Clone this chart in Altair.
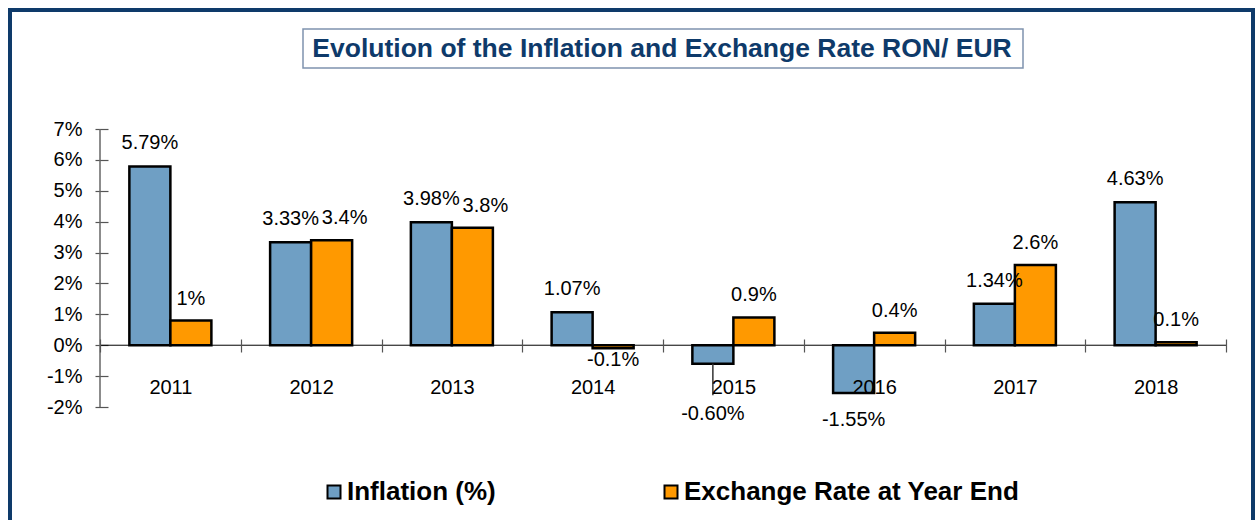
import altair as alt
import pandas as pd

# ---- data ----
years = ["2011", "2012", "2013", "2014", "2015", "2016", "2017", "2018"]
inflation = [5.79, 3.33, 3.98, 1.07, -0.60, -1.55, 1.34, 4.63]
inflation_labels = ["5.79%", "3.33%", "3.98%", "1.07%", "-0.60%", "-1.55%", "1.34%", "4.63%"]
exchange = [0.8, 3.4, 3.8, -0.1, 0.9, 0.4, 2.6, 0.1]
exchange_labels = ["1%", "3.4%", "3.8%", "-0.1%", "0.9%", "0.4%", "2.6%", "0.1%"]
series_names = ["Inflation (%)", "Exchange Rate at Year End"]
y_ticks = [-2, -1, 0, 1, 2, 3, 4, 5, 6, 7]
title_text = "Evolution of the Inflation and Exchange Rate RON/ EUR"

FONT = "Liberation Sans, Arial, Helvetica, sans-serif"
NAVY = "#0E3A6A"
BLUE = "#6F9FC4"
ORANGE = "#FF9900"

rows = []
for i, yr in enumerate(years):
    near = abs(inflation[i] - exchange[i]) < 0.5
    rows.append({"year": yr, "series": series_names[0], "value": inflation[i],
                 "label": inflation_labels[i], "near": False})
    rows.append({"year": yr, "series": series_names[1], "value": exchange[i],
                 "label": exchange_labels[i], "near": near})
df = pd.DataFrame(rows)

x_enc = alt.X("year:N", sort=years,
              scale=alt.Scale(paddingInner=0, paddingOuter=0),
              axis=alt.Axis(title=None, labelAngle=0, tickBand="extent", domain=False,
                            offset=-68, tickSize=13, tickColor="#555555", tickWidth=1.2,
                            labelPadding=35, labelBaseline="middle", labelFontSize=20,
                            labelFont=FONT, labelColor="black", zindex=1))
xo_enc = alt.XOffset("series:N", sort=series_names,
                     scale=alt.Scale(domain=series_names, paddingInner=0, paddingOuter=0.716))
y_scale = alt.Scale(domain=[-2, 7], nice=False, zero=False)
y_axis = alt.Axis(title=None, values=y_ticks, labelExpr="datum.value + '%'", grid=False,
                  domain=False, offset=-8, tickSize=13, tickColor="#555555", tickWidth=1.2,
                  labelPadding=13, labelFontSize=20, labelFont=FONT, labelColor="black")
color_enc = alt.Color("series:N", sort=series_names,
                      scale=alt.Scale(domain=series_names, range=[BLUE, ORANGE]),
                      legend=alt.Legend(title=None, orient="none", legendX=221, legendY=350,
                                        direction="horizontal", symbolType="square",
                                        symbolSize=169, symbolStrokeColor="black",
                                        symbolStrokeWidth=2, labelFontSize=26,
                                        labelFontWeight="bold", labelFont=FONT,
                                        labelColor="black", labelOffset=0,
                                        columnPadding=162, padding=0, labelLimit=600))

base = alt.Chart(df)

bars = base.mark_bar(stroke="black", strokeWidth=2.5).encode(
    x=x_enc, xOffset=xo_enc,
    y=alt.Y("value:Q", scale=y_scale, axis=y_axis),
    color=color_enc,
)

txt = dict(fontSize=20, font=FONT, color="black", baseline="middle", align="center")

infl_pos = base.mark_text(dy=-23, **txt).encode(
    x=x_enc, xOffset=xo_enc, y=alt.Y("value:Q", scale=y_scale, axis=y_axis), text="label:N"
).transform_filter(
    (alt.datum.series == series_names[0]) & (alt.datum.value >= 0))

infl_neg = base.mark_text(dy=27, **txt).transform_filter(
    (alt.datum.series == series_names[0]) & (alt.datum.value < 0)
).transform_calculate(ly="min(datum.value, -1.35)").encode(
    x=x_enc, xOffset=xo_enc, y=alt.Y("ly:Q", scale=y_scale, axis=y_axis), text="label:N")

# leader line for a label pushed below the category labels
leader = base.mark_rule(color="#333333", strokeWidth=1.5).transform_filter(
    (alt.datum.series == series_names[0]) & (alt.datum.value < 0) & (alt.datum.value > -1.35)
).transform_calculate(ly2="-1.62").encode(
    x=x_enc, xOffset=xo_enc, y=alt.Y("value:Q", scale=y_scale, axis=y_axis), y2="ly2:Q")

exch_pos = base.mark_text(dy=-22, **txt).encode(
    x=x_enc, xOffset=xo_enc, y=alt.Y("value:Q", scale=y_scale, axis=y_axis), text="label:N"
).transform_filter(
    (alt.datum.series == series_names[1]) & (alt.datum.value >= 0) & (alt.datum.near == False))

exch_near = base.mark_text(dy=-22, dx=13, **txt).encode(
    x=x_enc, xOffset=xo_enc, y=alt.Y("value:Q", scale=y_scale, axis=y_axis), text="label:N"
).transform_filter(
    (alt.datum.series == series_names[1]) & (alt.datum.value >= 0) & (alt.datum.near == True))

exch_neg = base.mark_text(dy=12, **txt).encode(
    x=x_enc, xOffset=xo_enc, y=alt.Y("value:Q", scale=y_scale, axis=y_axis), text="label:N"
).transform_filter(
    (alt.datum.series == series_names[1]) & (alt.datum.value < 0))

one = pd.DataFrame({"t": [title_text]})

zero_line = alt.Chart(one).mark_rule(color="black", strokeWidth=1).encode(
    y=alt.Y(datum=0, scale=y_scale, axis=y_axis))
y_line = alt.Chart(one).mark_rule(color="#666666", strokeWidth=1.5).encode(
    x=alt.value(0), y=alt.Y(datum=-2, scale=y_scale, axis=y_axis), y2=alt.datum(7))

frame = alt.Chart(one).mark_rect(fillOpacity=0, stroke=NAVY, strokeWidth=4).encode(
    x=alt.value(-90), x2=alt.value(1153), y=alt.value(-119), y2=alt.value(430))
title_box = alt.Chart(one).mark_rect(fill="white", stroke="#7F93AE", strokeWidth=1.5).encode(
    x=alt.value(203), x2=alt.value(923), y=alt.value(-100), y2=alt.value(-61))
title = alt.Chart(one).mark_text(fontSize=26.5, fontWeight="bold", font=FONT, color=NAVY,
                                 align="center", baseline="middle").encode(
    x=alt.value(562), y=alt.value(-80), text="t:N")

chart = alt.layer(
    frame, title_box, title, bars, leader, zero_line, y_line,
    infl_pos, infl_neg, exch_pos, exch_near, exch_neg
).properties(
    width=1126, height=278,
    autosize=alt.AutoSizeParams(type="none"),
    padding={"left": 100, "top": 129, "right": 30, "bottom": 113},
    background="white",
).configure_view(strokeWidth=0)

chart.save("out.html", embed_options={"renderer": "svg", "actions": False})
